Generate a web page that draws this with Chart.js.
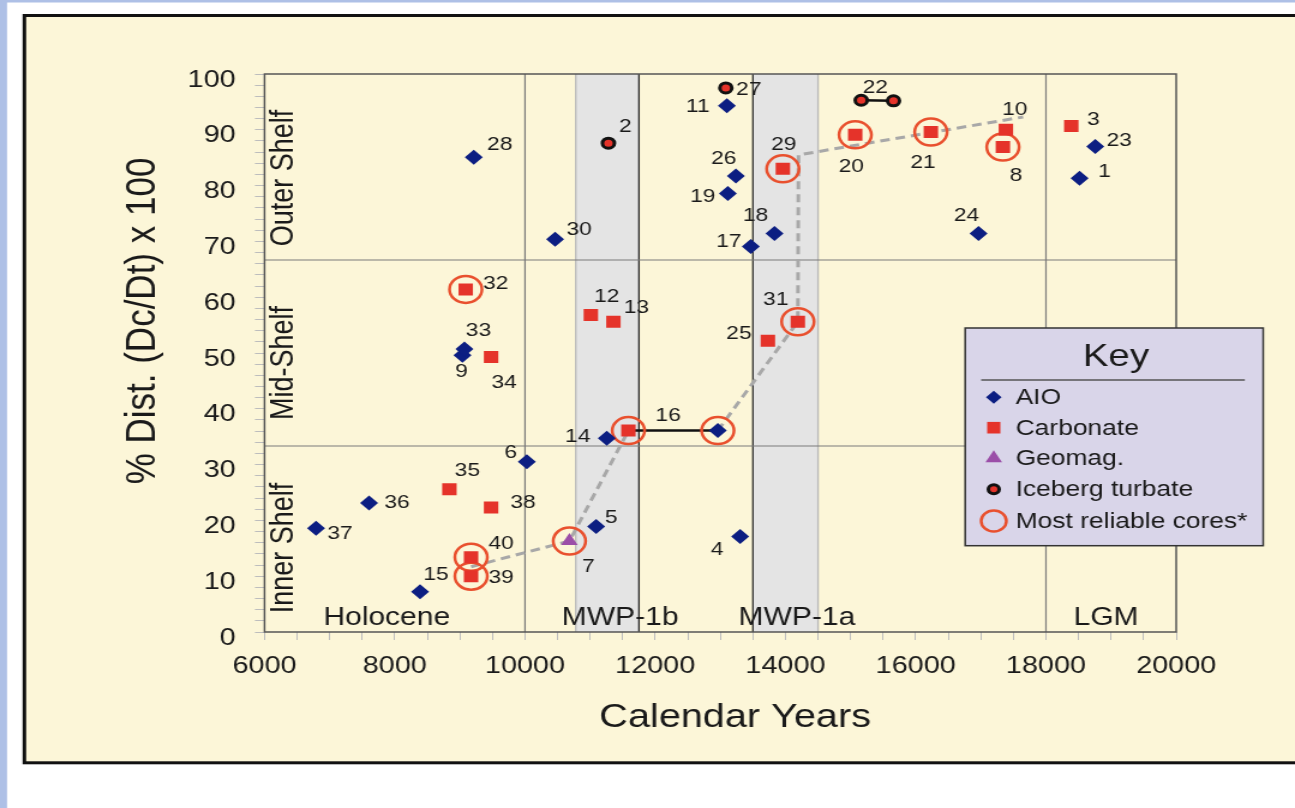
<!DOCTYPE html>
<html>
<head>
<meta charset="utf-8">
<title>% Dist. (Dc/Dt) x 100 vs Calendar Years</title>
<script src="https://cdn.jsdelivr.net/npm/chart.js@4.4.1/dist/chart.umd.min.js"></script>
<style>
  html, body { margin: 0; padding: 0; background: #fff; overflow: hidden; }
  #chart { position: absolute; left: 0; top: 0; }
</style>
</head>
<body>
<canvas id="chart" width="1079" height="808" style="width:1295px;height:808px"></canvas>
<script>
// the source figure is stretched sideways, so the canvas is drawn narrow and widened by css
const STRETCH = 1.2;
const FONT = "'Liberation Sans', Arial, sans-serif";

// ---- data ----
const aioIds   = ['1', '4', '5', '6', '9', '11', '14', '15', '16', '17', '18', '19', '23', '24', '26', '28', '30', '33', '36', '37'];
const aioYears = [18516, 13304, 11092, 10028, 9040, 13100, 11256, 8389, 12961, 13468, 13831, 13115, 18757, 16965, 13238, 9213, 10462, 9070, 7605, 6791];
const aioDist  = [81.3, 17.1, 18.9, 30.5, 49.6, 94.3, 34.7, 7.2, 36.1, 69.1, 71.4, 78.6, 87.0, 71.4, 81.7, 85.1, 70.4, 50.7, 23.1, 18.6];

const carbIds   = ['3', '8', '10', '12', '13', '16', '20', '21', '25', '29', '31', '32', '34', '35', '38', '39', '40'];
const carbYears = [18389, 17339, 17385, 11011, 11358, 11588, 15071, 16233, 13730, 13960, 14190, 9090, 9479, 8839, 9479, 9172, 9172];
const carbDist  = [90.7, 86.9, 90.0, 56.8, 55.6, 36.1, 89.1, 89.6, 52.2, 83.0, 55.6, 61.4, 49.3, 25.6, 22.3, 10.0, 13.4];

const geoIds   = ['7'];
const geoYears = [10682];
const geoDist  = [16.3];

const iceIds   = ['2', '27', '22', '22'];
const iceYears = [11281, 13084, 15163, 15659];
const iceDist  = [87.6, 97.5, 95.3, 95.2];

// most reliable cores (rings)
const reliableYears = [10682, 17339, 11588, 12961, 15071, 16233, 13960, 14190, 9090, 9172, 9172];
const reliableDist  = [16.3, 86.9, 36.1, 36.1, 89.1, 89.6, 83.0, 55.6, 61.4, 10.0, 13.4];

// age ranges of cores 16 and 22
const core16Years = [11588, 12961];
const core16Dist  = [36.1, 36.1];
const core22Years = [15163, 15659];
const core22Dist  = [95.3, 95.2];

// dashed path through the reliable cores
const trendYears = [9172, 10682, 11588, null, 12961, 14190, 14200, 17650];
const trendDist  = [11.7, 16.3, 36.1, null, 36.1, 55.6, 85.5, 92.3];

const bandNames  = ['MWP-1b', 'MWP-1a'];
const bandStart  = [10780, 13500];
const bandEnd    = [11750, 14500];
const periodLines = [10000, 18000];
const periodNames = ['Holocene', 'MWP-1b', 'MWP-1a', 'LGM'];
const shelfLimits = [100 / 3, 200 / 3];
const shelfNames  = ['Inner Shelf', 'Mid-Shelf', 'Outer Shelf'];

const xTickLabels = [6000, 8000, 10000, 12000, 14000, 16000, 18000, 20000];
const yTickLabels = [0, 10, 20, 30, 40, 50, 60, 70, 80, 90, 100];

const legendLabels = ['AIO', 'Carbonate', 'Geomag.', 'Iceberg turbate', 'Most reliable cores*'];
const legendKinds  = ['diamond', 'square', 'triangle', 'iceberg', 'ring'];

// ---- layout / style ----
const NAVY = '#0c1e82';
const RED = '#e5332a';
const RING = '#e9502e';
const PURPLE = '#9b4ea8';
const INK = '#1a1a1a';

// label offsets in screen px from the marker [dx, dy]
const labelOffsets = {
  '1': [25, -7], '2': [17, -16], '3': [22, -6], '4': [-23, 13], '5': [15, -9], '6': [-16, -9],
  '7': [19, 26], '8': [13, 29], '9': [-1, 17], '10': [9, -20], '11': [-29, 1], '12': [16, -18],
  '13': [23, -14], '14': [-29, -2], '15': [16, -17], '17': [-22, -5], '18': [-19, -18], '19': [-25, 3],
  '20': [-4, 32], '21': [-8, 31], '23': [24, -6], '24': [-12, -18], '25': [-29, -7], '26': [-12, -17],
  '27': [23, 2], '28': [26, -12], '29': [1, -24], '30': [24, -9], '31': [-22, -22], '32': [30, -6],
  '33': [14, -18], '34': [13, 26], '35': [18, -18], '36': [28, 0], '37': [24, 6], '38': [32, -5],
  '39': [30, 2], '40': [30, -13]
};
const linkOffsets = { '16': [-5, -15], '22': [-2, -13] };
const periodLabelX = [7877, 11461, 14175, 18923];
const periodLabelY = 618;
const shelfLabelX = 236.7;
const shelfLabelY = [548, 363, 178];
const KEY = { left: 804.2, top: 328, right: 1052.5, bottom: 545.7, titleY: 357, ruleY: 380,
              ruleL: 817.5, ruleR: 1037.2, rowY: [397.3, 427.7, 458.3, 489.3, 521], markX: 828, textX: 846.2 };

const pts = (xs, ys) => xs.map((x, i) => ({ x: x, y: ys[i] }));

function seg(ctx, x0, y0, x1, y1) {
  ctx.beginPath();
  ctx.moveTo(x0, y0);
  ctx.lineTo(x1, y1);
  ctx.stroke();
}

function legendMarker(ctx, kind, x, y) {
  ctx.save();
  ctx.beginPath();
  if (kind === 'diamond') {
    ctx.moveTo(x, y - 6.5); ctx.lineTo(x + 6.5, y); ctx.lineTo(x, y + 6.5); ctx.lineTo(x - 6.5, y);
    ctx.closePath();
    ctx.fillStyle = NAVY; ctx.fill();
  } else if (kind === 'square') {
    ctx.rect(x - 5.5, y - 5.8, 11, 11.6);
    ctx.fillStyle = RED; ctx.fill();
  } else if (kind === 'triangle') {
    ctx.moveTo(x, y - 8); ctx.lineTo(x + 6.9, y + 4); ctx.lineTo(x - 6.9, y + 4);
    ctx.closePath();
    ctx.fillStyle = PURPLE; ctx.fill();
  } else if (kind === 'iceberg') {
    ctx.arc(x, y, 4.5, 0, Math.PI * 2);
    ctx.fillStyle = RED; ctx.fill();
    ctx.lineWidth = 3; ctx.strokeStyle = '#111'; ctx.stroke();
  } else {
    ctx.arc(x, y, 10.5, 0, Math.PI * 2);
    ctx.lineWidth = 2.5; ctx.strokeStyle = RING; ctx.stroke();
  }
  ctx.restore();
}

const backdrop = {
  id: 'backdrop',
  beforeDraw(chart) {
    const { ctx, width, height } = chart;
    ctx.save();
    ctx.fillStyle = '#ffffff';
    ctx.fillRect(0, 0, width, height);
    ctx.fillStyle = '#aec0e6';
    ctx.fillRect(0, 0, width, 2.5);
    ctx.fillRect(0, 0, 7 / STRETCH, height);
    ctx.fillStyle = '#fcf6d8';
    ctx.fillRect(20, 15.5, width, 747);
    ctx.strokeStyle = '#111';
    ctx.lineWidth = 3;
    ctx.strokeRect(20.3, 15.5, width + 20, 747.3);
    ctx.restore();
  },
  beforeDatasetsDraw(chart) {
    const { ctx, chartArea: a, scales: { x, y } } = chart;
    ctx.save();
    bandStart.forEach((s, i) => {
      const x0 = x.getPixelForValue(s);
      const x1 = x.getPixelForValue(bandEnd[i]);
      ctx.fillStyle = '#e4e4e4';
      ctx.fillRect(x0, a.top, x1 - x0, a.bottom - a.top);
      ctx.lineWidth = 1.3;
      ctx.strokeStyle = i === 0 ? '#b9b9b9' : '#2a2a2a';
      seg(ctx, x0, a.top, x0, a.bottom);
      ctx.strokeStyle = i === 0 ? '#2a2a2a' : '#b9b9b9';
      seg(ctx, x1, a.top, x1, a.bottom);
    });
    ctx.strokeStyle = '#7a7a7a';
    ctx.lineWidth = 1.2;
    periodLines.forEach(v => {
      const px = x.getPixelForValue(v);
      seg(ctx, px, a.top, px, a.bottom);
    });
    shelfLimits.forEach(v => {
      const py = y.getPixelForValue(v);
      seg(ctx, a.left, py, a.right, py);
    });
    ctx.strokeStyle = '#555';
    ctx.lineWidth = 1.5;
    ctx.strokeRect(a.left, a.top, a.right - a.left, a.bottom - a.top);
    ctx.restore();
  },
  afterDatasetsDraw(chart) {
    const { ctx, chartArea: a, scales: { x } } = chart;
    ctx.save();
    ctx.fillStyle = INK;
    ctx.textAlign = 'center';
    ctx.textBaseline = 'middle';

    // core numbers
    ctx.font = '19px ' + FONT;
    chart.data.datasets.forEach((ds, di) => {
      const meta = chart.getDatasetMeta(di);
      if (ds.ids) {
        meta.data.forEach((pt, i) => {
          const off = labelOffsets[ds.ids[i]];
          if (off) ctx.fillText(ds.ids[i], pt.x + off[0] / STRETCH, pt.y + off[1]);
        });
      }
      if (ds.linkId) {
        const p0 = meta.data[0], p1 = meta.data[1];
        const off = linkOffsets[ds.linkId];
        ctx.fillText(ds.linkId, (p0.x + p1.x) / 2 + off[0] / STRETCH, (p0.y + p1.y) / 2 + off[1]);
      }
    });

    // period names
    ctx.font = '25px ' + FONT;
    periodNames.forEach((n, i) => ctx.fillText(n, x.getPixelForValue(periodLabelX[i]), periodLabelY));

    // shelf names
    ctx.font = '27px ' + FONT;
    shelfNames.forEach((n, i) => {
      ctx.save();
      ctx.translate(shelfLabelX, shelfLabelY[i]);
      ctx.rotate(-Math.PI / 2);
      ctx.fillText(n, 0, 0);
      ctx.restore();
    });

    // axis titles
    ctx.font = '35px ' + FONT;
    ctx.save();
    ctx.translate(143 / STRETCH, 321);
    ctx.rotate(-Math.PI / 2);
    ctx.fillText('% Dist. (Dc/Dt) x 100', 0, 0);
    ctx.restore();
    ctx.font = '33px ' + FONT;
    ctx.fillText('Calendar Years', 735 / STRETCH, 718);

    // key
    ctx.fillStyle = '#d9d5e9';
    ctx.fillRect(KEY.left, KEY.top, KEY.right - KEY.left, KEY.bottom - KEY.top);
    ctx.strokeStyle = '#333';
    ctx.lineWidth = 1.5;
    ctx.strokeRect(KEY.left, KEY.top, KEY.right - KEY.left, KEY.bottom - KEY.top);
    ctx.fillStyle = INK;
    ctx.font = '32px ' + FONT;
    ctx.fillText('Key', (KEY.left + KEY.right) / 2 + 1.5, KEY.titleY);
    ctx.strokeStyle = '#555';
    ctx.lineWidth = 1.3;
    seg(ctx, KEY.ruleL, KEY.ruleY, KEY.ruleR, KEY.ruleY);
    ctx.font = '22px ' + FONT;
    ctx.textAlign = 'left';
    legendLabels.forEach((lab, i) => {
      legendMarker(ctx, legendKinds[i], KEY.markX, KEY.rowY[i]);
      ctx.fillStyle = INK;
      ctx.fillText(lab, KEY.textX, KEY.rowY[i] + 1);
    });
    ctx.restore();
  }
};

const chart = new Chart(document.getElementById('chart'), {
  type: 'scatter',
  data: {
    datasets: [
      { label: 'AIO', ids: aioIds, data: pts(aioYears, aioDist), pointStyle: 'rectRot', pointRadius: 7.5,
        backgroundColor: NAVY, borderColor: NAVY, borderWidth: 0 },
      { label: 'Carbonate', ids: carbIds, data: pts(carbYears, carbDist), pointStyle: 'rect', pointRadius: 8.5,
        backgroundColor: RED, borderColor: RED, borderWidth: 0 },
      { label: 'Geomag.', ids: geoIds, data: pts(geoYears, geoDist), pointStyle: 'triangle', pointRadius: 8,
        backgroundColor: PURPLE, borderColor: PURPLE, borderWidth: 0 },
      { label: 'Iceberg turbate', ids: iceIds, data: pts(iceYears, iceDist), pointStyle: 'circle', pointRadius: 5,
        backgroundColor: RED, borderColor: '#111', borderWidth: 3 },
      { label: 'Most reliable cores*', data: pts(reliableYears, reliableDist), pointStyle: 'circle', pointRadius: 13.5,
        backgroundColor: 'rgba(0,0,0,0)', borderColor: RING, borderWidth: 2.5 },
      { type: 'line', label: 'core 16', linkId: '16', data: pts(core16Years, core16Dist),
        borderColor: '#111', borderWidth: 2.5, pointRadius: 0 },
      { type: 'line', label: 'core 22', linkId: '22', data: pts(core22Years, core22Dist),
        borderColor: '#111', borderWidth: 2.5, pointRadius: 0 },
      { type: 'line', label: 'trend', data: pts(trendYears, trendDist),
        borderColor: '#a8a8a8', borderWidth: 3, borderDash: [8, 5], pointRadius: 0, spanGaps: false }
    ]
  },
  options: {
    responsive: false,
    animation: false,
    events: [],
    layout: { padding: { left: 0, top: 74, right: 99, bottom: 0 } },
    plugins: { legend: { display: false }, tooltip: { enabled: false } },
    scales: {
      x: {
        type: 'linear',
        min: 6000,
        max: 20000,
        afterFit: s => { s.height = 176; },
        border: { display: false },
        grid: { drawOnChartArea: false, drawTicks: true, tickLength: 8, color: '#bdbdbd' },
        ticks: {
          stepSize: 500, autoSkip: false, maxRotation: 0, padding: 12.3,
          color: INK, font: { family: FONT, size: 24 },
          callback: v => xTickLabels.includes(v) ? String(v) : ''
        }
      },
      y: {
        type: 'linear',
        min: 0,
        max: 100,
        afterFit: s => { s.width = 220.4; },
        border: { display: false },
        grid: { drawOnChartArea: false, drawTicks: true, tickLength: 8, color: '#bdbdbd' },
        ticks: {
          stepSize: 2, autoSkip: false, padding: 16, labelOffset: 6,
          color: INK, font: { family: FONT, size: 24 },
          callback: v => yTickLabels.includes(v) ? String(v) : ''
        }
      }
    }
  },
  plugins: [backdrop]
});
</script>
</body>
</html>
